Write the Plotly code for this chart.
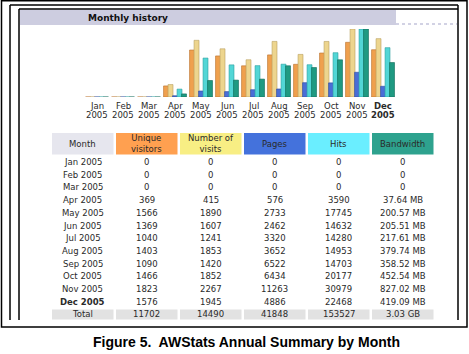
import plotly.graph_objects as go

W, H = 469, 354

months = ["Jan", "Feb", "Mar", "Apr", "May", "Jun", "Jul", "Aug", "Sep", "Oct", "Nov", "Dec"]
year = "2005"
unique_visitors = [0, 0, 0, 369, 1566, 1369, 1040, 1403, 1090, 1466, 1823, 1576]
visits = [0, 0, 0, 415, 1890, 1607, 1241, 1853, 1420, 1852, 2267, 1945]
pages = [0, 0, 0, 576, 2733, 2462, 3320, 3652, 6522, 6434, 11263, 4886]
hits = [0, 0, 0, 3590, 17745, 14632, 14280, 14953, 14703, 20177, 30979, 22468]
bandwidth_mb = [0, 0, 0, 37.64, 200.57, 205.51, 217.61, 379.74, 358.52, 452.54, 827.02, 419.09]
totals = ["11702", "14490", "41848", "153527", "3.03 GB"]
headers = ["Month", "Unique<br>visitors", "Number of<br>visits", "Pages", "Hits", "Bandwidth"]

bar_colors = ["#EFA04E", "#EDD58E", "#4A6ED6", "#52D6D6", "#1F9A82"]
bar_lines = ["#B86E2A", "#B8A060", "#2C4AA0", "#2EA0A0", "#0F6A58"]
head_fill = ["#E6E6EE", "#FFA050", "#F8EE84", "#4472DC", "#6AEEFF", "#2EA28E"]


def px(x):
    return x / W


def py(y):
    return 1 - y / H


fig = go.Figure()
xs = list(range(len(months)))
series = [(unique_visitors, "y"), (visits, "y"), (pages, "y2"), (hits, "y2"), (bandwidth_mb, "y3")]
offsets = [-0.44, -0.267, -0.094, 0.079, 0.252]
for i, (vals, ax) in enumerate(series):
    fig.add_trace(go.Bar(
        x=xs, y=vals, yaxis=ax, offset=offsets[i], width=0.19,
        marker=dict(color=bar_colors[i], line=dict(color=bar_lines[i], width=0.6)),
        showlegend=False, hoverinfo="skip"))

ydom = [py(97), py(29)]
fig.update_layout(
    width=W, height=H, autosize=False,
    margin=dict(l=0, r=0, t=0, b=0),
    paper_bgcolor="white", plot_bgcolor="rgba(0,0,0,0)",
    xaxis=dict(domain=[px(84), px(396)], range=[-0.5, 11.5], showgrid=False,
               zeroline=False, showticklabels=False, ticks="", showline=False, fixedrange=True),
    yaxis=dict(domain=ydom, range=[0, max(visits)], visible=False, fixedrange=True),
    yaxis2=dict(domain=ydom, range=[0, max(hits)], overlaying="y", visible=False),
    yaxis3=dict(domain=ydom, range=[0, max(bandwidth_mb)], overlaying="y", visible=False),
)


def fmt_bw(v):
    return "0" if v == 0 else f"{v:.2f} MB"


month_cells = [f"{m} {year}" for m in months]
month_cells[-1] = f"<b>{month_cells[-1]}</b>"
month_cells.append("Total")
cols = [
    month_cells,
    [str(v) for v in unique_visitors] + [totals[0]],
    [str(v) for v in visits] + [totals[1]],
    [str(v) for v in pages] + [totals[2]],
    [str(v) for v in hits] + [totals[3]],
    [fmt_bw(v) for v in bandwidth_mb] + [totals[4]],
]
nrows = len(month_cells)

shapes = []
ann = []
font_t = dict(family="DejaVu Sans", size=8.5, color="#2a2a2a")

# table geometry (layout only)
col_left0, col_step, col_w = 52, 64, 61.5
head_top, head_bot = 133, 154.5
row0, row_step = 162, 12.7

for c in range(len(cols)):
    xl = col_left0 + c * col_step
    xc = xl + col_w / 2
    shapes.append(dict(type="rect", xref="paper", yref="paper", x0=px(xl), x1=px(xl + col_w),
                       y0=py(head_bot), y1=py(head_top), fillcolor=head_fill[c], line=dict(width=0), layer="below"))
    ann.append(dict(text=headers[c], xref="paper", yref="paper", x=px(xc), y=py((head_top + head_bot) / 2),
                    xanchor="center", yanchor="middle", showarrow=False, font=font_t))
    for r in range(nrows):
        yc = row0 + r * row_step
        if r == nrows - 1:
            shapes.append(dict(type="rect", xref="paper", yref="paper", x0=px(xl), x1=px(xl + col_w),
                               y0=py(yc + 5), y1=py(yc - 5), fillcolor="#E2E2E2", line=dict(width=0), layer="below"))
        ann.append(dict(text=cols[c][r], xref="paper", yref="paper", x=px(xc), y=py(yc),
                        xanchor="center", yanchor="middle", showarrow=False, font=font_t))

line = dict(color="black", width=1.5)
# outer frame
shapes.append(dict(type="rect", xref="paper", yref="paper", x0=px(1.5), x1=px(467), y0=py(327), y1=py(0.8), line=line))
# inner screenshot borders
for x0, y0 in [(10, 5), (19, 9)]:
    shapes.append(dict(type="line", xref="paper", yref="paper", x0=px(x0), x1=px(x0), y0=py(y0), y1=py(320), line=line))
    shapes.append(dict(type="line", xref="paper", yref="paper", x0=px(x0), x1=px(458), y0=py(y0), y1=py(y0), line=line))
shapes.append(dict(type="line", xref="paper", yref="paper", x0=px(458), x1=px(458), y0=py(5), y1=py(320), line=line))
# title bar
shapes.append(dict(type="rect", xref="paper", yref="paper", x0=px(20), x1=px(396), y0=py(25), y1=py(9.8),
                   fillcolor="#CDCDE0", line=dict(width=0), layer="below"))
shapes.append(dict(type="line", xref="paper", yref="paper", x0=px(396), x1=px(457), y0=py(24), y1=py(24),
                   line=dict(color="#C4C4DC", width=1.5, dash="dot")))
fig.update_layout(shapes=shapes)

ann.append(dict(text="<b>Monthly history</b>", xref="paper", yref="paper", x=px(86), y=py(17.5),
                xanchor="left", yanchor="middle", showarrow=False,
                font=dict(family="DejaVu Sans", size=9, color="#111")))
for i, m in enumerate(months):
    bold = i == len(months) - 1
    for txt, yy in [(m, 106), (year, 115)]:
        ann.append(dict(text=f"<b>{txt}</b>" if bold else txt, x=i, xref="x", yref="paper", y=py(yy),
                        xanchor="center", yanchor="middle", showarrow=False, font=font_t))
ann.append(dict(text="<b>Figure 5.  AWStats Annual Summary by Month</b>", xref="paper", yref="paper",
                x=px(246), y=py(342), xanchor="center", yanchor="middle", showarrow=False,
                font=dict(family="Liberation Sans", size=14, color="black")))
fig.update_layout(annotations=ann)

fig.write_html("out.html", config={"displayModeBar": False})
